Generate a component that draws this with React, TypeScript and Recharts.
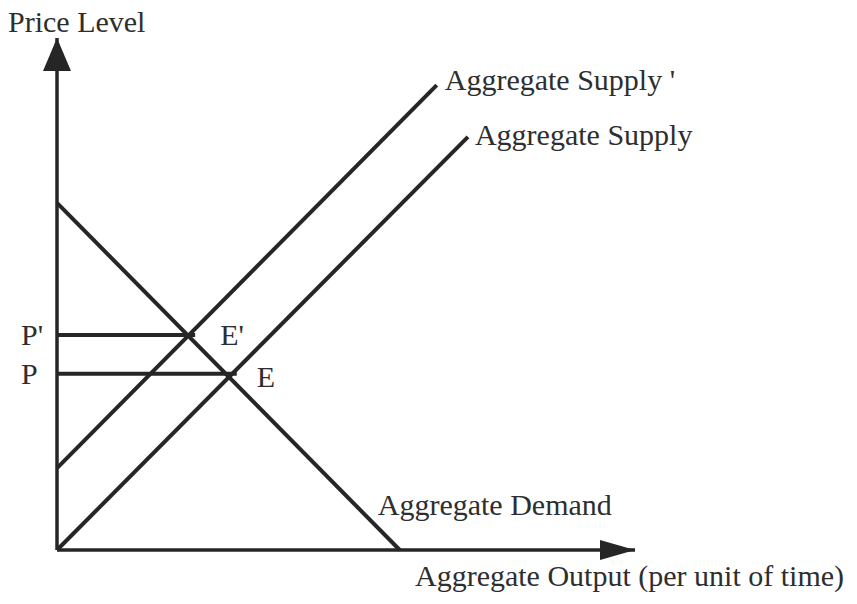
import React from "react";
import {
  ComposedChart,
  Line,
  Scatter,
  XAxis,
  YAxis,
  Label,
  LabelList,
} from "recharts";

// curve endpoints (output 0..100, price 0..100)
const aggregateDemand = [
  { x: 0, y: 67.8 },
  { x: 59.3, y: 0 },
];
const aggregateSupply = [
  { x: 0, y: 0 },
  { x: 71.1, y: 80.7 },
];
const aggregateSupplyShifted = [
  { x: 0, y: 16.0 },
  { x: 65.7, y: 90.8 },
];
const priceLevelE = [
  { x: 0, y: 34.4 },
  { x: 31.1, y: 34.4 },
];
const priceLevelEShifted = [
  { x: 0, y: 42.0 },
  { x: 23.9, y: 42.0 },
];
const priceTicks = [34.4, 42.0];
const priceTickLabels = ["P", "P'"];
const yArrowTip = [{ x: 0, y: 100 }];
const xArrowTip = [{ x: 100, y: 0 }];

const font = "'Liberation Serif', 'Times New Roman', serif";
const ink = "#262626";
const textInk = "#2e2e2e";

const endLabel = (text: string, dx: number, dy: number) => (props: any) => {
  const { x, y, index } = props;
  if (index !== 1) return null;
  return (
    <text x={x + dx} y={y + dy} fill={textInk} fontSize={30} fontFamily={font}>
      {text}
    </text>
  );
};

const UpArrow = (props: any) => {
  const { cx, cy } = props;
  return <polygon points={`${cx},${cy} ${cx - 14},${cy + 33} ${cx + 14},${cy + 33}`} fill={ink} />;
};

const RightArrow = (props: any) => {
  const { cx, cy } = props;
  return <polygon points={`${cx},${cy} ${cx - 35},${cy - 10} ${cx - 35},${cy + 10}`} fill={ink} />;
};

const PriceTick = (props: any) => {
  const { x, y, payload } = props;
  const i = priceTicks.indexOf(payload.value);
  return (
    <text x={x} y={y} dy="0.35em" textAnchor="start" fill={textInk} fontSize={30} fontFamily={font}>
      {priceTickLabels[i]}
    </text>
  );
};

export default function App() {
  return (
    <div style={{ position: "absolute", left: 0, top: 0, background: "#fff" }}>
      <ComposedChart width={857} height={604} margin={{ top: 38, right: 222, bottom: 0, left: 0 }}>
        <XAxis
          type="number"
          dataKey="x"
          domain={[0, 100]}
          height={54}
          tick={false}
          tickLine={false}
          axisLine={{ stroke: ink, strokeWidth: 3.5 }}
        >
          <Label
            content={(p: any) => (
              <text x={p.viewBox.x + 358} y={p.viewBox.y + 36} fill={textInk} fontSize={30} fontFamily={font}>
                Aggregate Output (per unit of time)
              </text>
            )}
          />
        </XAxis>
        <YAxis
          type="number"
          dataKey="y"
          domain={[0, 100]}
          width={57}
          ticks={priceTicks}
          tick={<PriceTick />}
          tickLine={false}
          tickSize={0}
          tickMargin={36}
          axisLine={{ stroke: ink, strokeWidth: 3.5 }}
        >
          <Label
            content={(p: any) => (
              <text x={8} y={p.viewBox.y - 6} fill={textInk} fontSize={30} fontFamily={font}>
                Price Level
              </text>
            )}
          />
        </YAxis>
        <Line data={aggregateDemand} dataKey="y" stroke={ink} strokeWidth={4} dot={false} activeDot={false} isAnimationActive={false}>
          <LabelList dataKey="y" content={endLabel("Aggregate Demand", -22, -35)} />
        </Line>
        <Line data={aggregateSupply} dataKey="y" stroke={ink} strokeWidth={4} dot={false} activeDot={false} isAnimationActive={false}>
          <LabelList dataKey="y" content={endLabel("Aggregate Supply", 7, 8)} />
        </Line>
        <Line data={aggregateSupplyShifted} dataKey="y" stroke={ink} strokeWidth={4} dot={false} activeDot={false} isAnimationActive={false}>
          <LabelList dataKey="y" content={endLabel("Aggregate Supply '", 8, 5)} />
        </Line>
        <Line data={priceLevelE} dataKey="y" stroke={ink} strokeWidth={4} dot={false} activeDot={false} isAnimationActive={false}>
          <LabelList dataKey="y" content={endLabel("E", 20, 13)} />
        </Line>
        <Line data={priceLevelEShifted} dataKey="y" stroke={ink} strokeWidth={4} dot={false} activeDot={false} isAnimationActive={false}>
          <LabelList dataKey="y" content={endLabel("E'", 25, 10)} />
        </Line>
        <Scatter data={yArrowTip} dataKey="y" shape={<UpArrow />} isAnimationActive={false} />
        <Scatter data={xArrowTip} dataKey="y" shape={<RightArrow />} isAnimationActive={false} />
      </ComposedChart>
    </div>
  );
}
